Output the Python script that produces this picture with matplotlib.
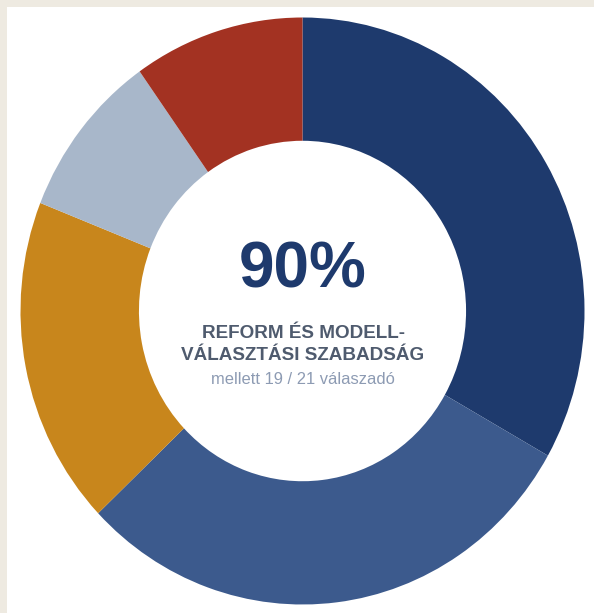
import matplotlib
matplotlib.use("Agg")
import matplotlib.pyplot as plt
from matplotlib.patches import Rectangle

# share of each answer group (percent)
groups = ["A", "B", "C", "D", "E"]
shares = [33.2, 29.7, 18.1, 9.2, 9.8]
colors = ["#1e3a6d", "#3c5a8d", "#c8861c", "#a8b7ca", "#a33222"]

headline = "90%"
label_lines = ["REFORM ÉS MODELL-", "VÁLASZTÁSI SZABADSÁG"]
sub_label = "mellett 19 / 21 válaszadó"

plt.rcParams["font.family"] = ["Liberation Sans", "DejaVu Sans"]

fig = plt.figure(figsize=(5.94, 6.13), dpi=100)
fig.patch.set_facecolor("white")

# beige frame strips along top and left edge
beige = "#eeeae1"
fig.patches.append(Rectangle((0, 1 - 7 / 613), 1, 7 / 613, transform=fig.transFigure,
                             facecolor=beige, edgecolor="none", zorder=0))
fig.patches.append(Rectangle((0, 0), 7 / 594, 1, transform=fig.transFigure,
                             facecolor=beige, edgecolor="none", zorder=0))

ax = fig.add_axes([20.5 / 594, 8.5 / 613, 564 / 594, 587 / 613])
ax.pie(
  shares,
  colors=colors,
  startangle=90,
  counterclock=False,
  radius=1.0,
  wedgeprops=dict(width=0.42, edgecolor="none", linewidth=0),
)
ax.set_aspect("auto")
ax.set_xlim(-1, 1)
ax.set_ylim(-1, 1)
ax.axis("off")

fig.text(303 / 594, 1 - 270 / 613, headline, ha="center", va="center",
         fontsize=46, fontweight="bold", color="#1e3a6d")
fig.text(303 / 594, 1 - 333 / 613, label_lines[0], ha="center", va="center",
         fontsize=13.6, fontweight="bold", color="#4f5b6e")
fig.text(303 / 594, 1 - 356 / 613, label_lines[1], ha="center", va="center",
         fontsize=13.6, fontweight="bold", color="#4f5b6e")
fig.text(303 / 594, 1 - 379 / 613, sub_label, ha="center", va="center",
         fontsize=11.9, color="#8d9bb3")

fig.savefig("out.png", dpi=100, facecolor=fig.get_facecolor())
